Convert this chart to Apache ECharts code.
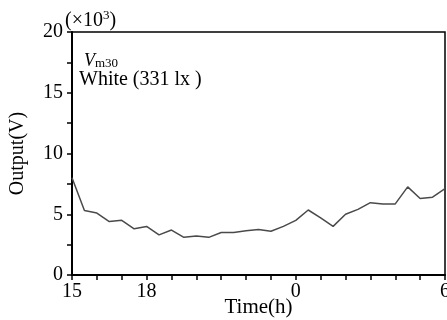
<!DOCTYPE html>
<html>
<head>
<meta charset="utf-8">
<script src="https://cdn.jsdelivr.net/npm/echarts@6/dist/echarts.min.js"></script>
<style>
  html, body { margin: 0; padding: 0; background: #fff; }
  #chart { width: 447px; height: 320px; }
</style>
</head>
<body>
<div id="chart"></div>
<script>
// time in hours from 15:00 (values past 24 are next day)
const hours = [15, 15.5, 16, 16.5, 17, 17.5, 18, 18.5, 19, 19.5, 20, 20.5, 21, 21.5, 22, 22.5,
  23, 23.5, 24, 24.5, 25, 25.5, 26, 26.5, 27, 27.5, 28, 28.5, 29, 29.5, 30];
// output (x10^3 V)
const output = [8.0, 5.3, 5.1, 4.4, 4.5, 3.8, 4.0, 3.3, 3.7, 3.1, 3.2, 3.1, 3.5, 3.5, 3.65, 3.75,
  3.6, 4.0, 4.5, 5.35, 4.7, 4.0, 5.0, 5.4, 5.95, 5.85, 5.85, 7.25, 6.3, 6.4, 7.1];
const xLabels = { 15: '15', 18: '18', 24: '0', 30: '6' };

const font = 'Liberation Serif';
const chart = echarts.init(document.getElementById('chart'));
chart.setOption({
  animation: false,
  textStyle: { fontFamily: font },
  grid: {
    left: 72, right: 2, top: 32, bottom: 45, outerBoundsMode: 'none',
    show: true, borderColor: '#000', borderWidth: 1.5
  },
  xAxis: {
    type: 'value', min: 15, max: 30, interval: 1,
    name: 'Time(h)', nameLocation: 'middle', nameGap: 22, nameMoveOverlap: false,
    nameTextStyle: { fontFamily: font, fontSize: 21, color: '#000' },
    axisLine: { lineStyle: { color: '#000', width: 2 } },
    axisTick: { inside: false, length: 5, lineStyle: { color: '#000', width: 1.5 } },
    axisLabel: {
      fontFamily: font, fontSize: 20, color: '#000', margin: 7, showMaxLabel: true,
      formatter: v => xLabels[v] || ''
    },
    splitLine: { show: false }
  },
  yAxis: {
    type: 'value', min: 0, max: 20, interval: 5,
    name: 'Output(V)', nameLocation: 'middle', nameGap: 44, nameRotate: 90,
    nameTextStyle: { fontFamily: font, fontSize: 20, color: '#000' },
    axisLine: { lineStyle: { color: '#000', width: 2 } },
    axisTick: { inside: false, length: 5, lineStyle: { color: '#000', width: 1.5 } },
    minorTick: { show: true, splitNumber: 2, length: 5, lineStyle: { color: '#000', width: 1.5 } },
    axisLabel: { fontFamily: font, fontSize: 20, color: '#000', margin: 9 },
    splitLine: { show: false }
  },
  graphic: [
    {
      type: 'text', left: 65, top: 9,
      style: {
        text: '{a|(×10}{s|3}{a|)}',
        rich: {
          a: { fontFamily: font, fontSize: 20, fill: '#000' },
          s: { fontFamily: font, fontSize: 13, fill: '#000', verticalAlign: 'top', padding: [0, 0, 10, 0] }
        }
      }
    },
    {
      type: 'text', left: 84, top: 52,
      style: {
        text: '{v|V}{m|m30}',
        rich: {
          v: { fontFamily: font, fontSize: 18, fontStyle: 'italic', fill: '#000' },
          m: { fontFamily: font, fontSize: 13, fill: '#000', padding: [6, 0, 0, 0] }
        }
      }
    },
    {
      type: 'text', left: 79, top: 70,
      style: { text: 'White (331 lx )', fontFamily: font, fontSize: 20, fill: '#000' }
    }
  ],
  series: [{
    type: 'line',
    data: hours.map((h, i) => [h, output[i]]),
    showSymbol: false,
    lineStyle: { color: '#4a4a4a', width: 1.5 }
  }]
});
</script>
</body>
</html>
